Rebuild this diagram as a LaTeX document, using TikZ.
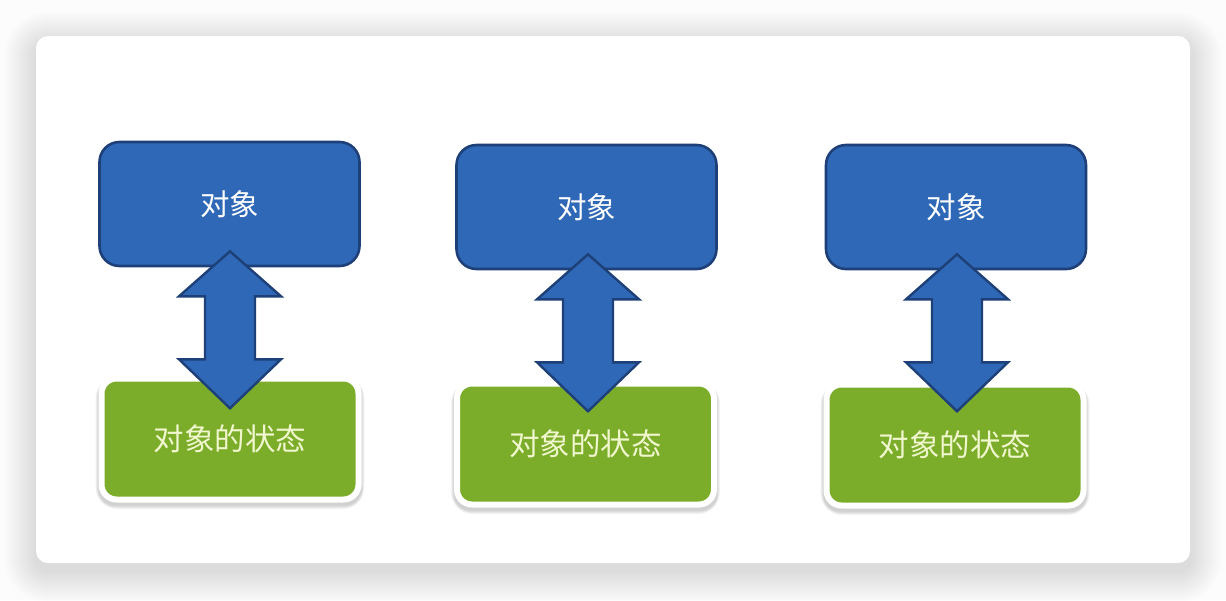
\documentclass[tikz,border=0pt]{standalone}
\usepackage{fontspec}
\newfontfamily\cjk{Noto Sans CJK SC}
\definecolor{objblue}{RGB}{47,104,182}
\definecolor{objedge}{RGB}{30,64,120}
\definecolor{stategreen}{RGB}{124,173,42}
\definecolor{statetext}{RGB}{240,246,205}
\definecolor{pagebg}{RGB}{252,252,252}
\tikzset{
  objbox/.style={draw=objedge, fill=objblue, line width=2.6pt, rounded corners=20pt,
    minimum width=260pt, minimum height=124pt, text=white, font=\cjk\fontsize{29.5}{32}\selectfont},
  statebox/.style={draw=white, fill=stategreen, line width=6pt, rounded corners=15pt,
    minimum width=257pt, minimum height=121pt, text=statetext, font=\cjk\fontsize{30.5}{32}\selectfont},
  linkarrow/.style={draw=objedge, fill=objblue, line width=2.4pt, line join=miter},
}
\begin{document}
\begin{tikzpicture}[x=1pt,y=-1pt]
\useasboundingbox (0,0) rectangle (1226,600);
\fill[pagebg] (0,0) rectangle (1226,600);
% soft shadow under the card
\foreach \i in {1,...,32}{
  \fill[black, opacity=0.0048, rounded corners=12pt+\i pt]
    (36-\i,44-\i) rectangle (1190+\i,571+\i);
}
% white card
\fill[white, rounded corners=12pt] (36,36) rectangle (1190,563);

% soft shadows under the green boxes
\foreach \cx/\cy in {230/441, 585.5/446, 955/447}{
  \foreach \i in {1,...,6}{
    \fill[black, opacity=0.03, rounded corners=16pt+\i pt]
      (\cx-131-\i*0.6,\cy-62-\i*0.4) rectangle (\cx+131+\i*0.6,\cy+64+\i*0.7);
  }
}

% first pair
\node[objbox]   (obj1)   at (229.5,204)   {对象};
\node[statebox] (state1) at (230,439)     {对象的状态};
% second pair
\node[objbox]   (obj2)   at (586.5,207)   {对象};
\node[statebox] (state2) at (585.5,444)   {对象的状态};
% third pair
\node[objbox]   (obj3)   at (956,207)     {对象};
\node[statebox] (state3) at (955,445)     {对象的状态};

% double-headed block arrows between object and state
\coordinate (a1) at ([yshift=16pt]obj1.south -| 230,0);
\coordinate (a2) at ([yshift=16pt]obj2.south -| 588,0);
\coordinate (a3) at ([yshift=16pt]obj3.south -| 957,0);
\foreach \a in {a1,a2,a3}{
  \draw[linkarrow] (\a) -- ++(51,45) -- ++(-26,0) -- ++(0,63) -- ++(26,0)
    -- ++(-51,49) -- ++(-51,-49) -- ++(26,0) -- ++(0,-63) -- ++(-26,0) -- cycle;
}
\end{tikzpicture}
\end{document}
